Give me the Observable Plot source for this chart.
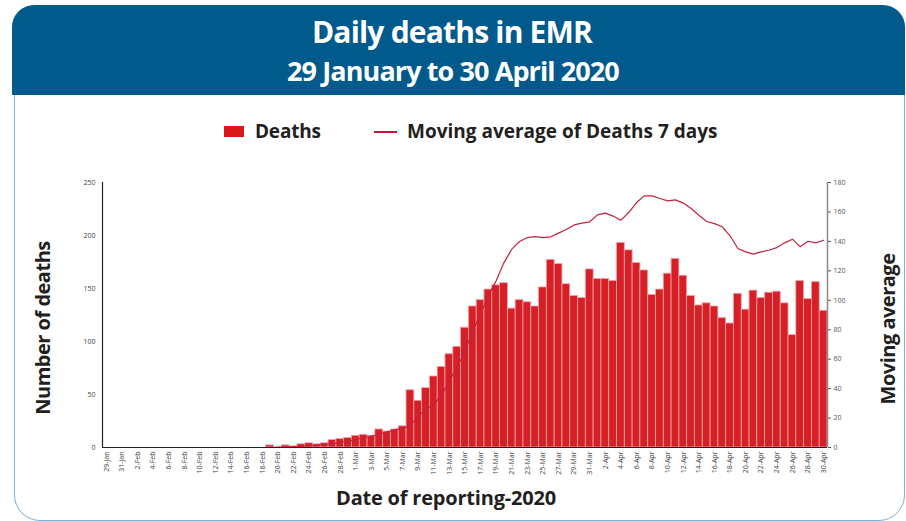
<!DOCTYPE html>
<html>
<head>
<meta charset="utf-8">
<script src="https://cdn.jsdelivr.net/npm/d3@7"></script>
<script src="https://cdn.jsdelivr.net/npm/@observablehq/plot@0.6"></script>
<style>
  body { margin: 0; background: #fff; }
  #wrap { position: relative; width: 906px; height: 521px; overflow: hidden; font-family: "Open Sans", sans-serif; }
  #frame { position: absolute; left: 14px; top: 80px; width: 889px; height: 439px; border: 1.5px solid #7fb0d4; border-radius: 0 0 26px 26px; }
  #header { position: absolute; left: 12px; top: 5px; width: 893px; height: 90px; background: #005a8c; border-radius: 22px 22px 0 0; }
  .t { position: absolute; white-space: nowrap; font-weight: 700; }
  .c { transform: translate(-50%, -50%); }
  .r { transform: translate(-50%, -50%) rotate(-90deg); }
  #chart { position: absolute; left: 0; top: 0; }
</style>
</head>
<body>
<div id="wrap">
  <div id="frame"></div>
  <div id="header"></div>
  <div id="chart"></div>
  <div class="t c" style="left:452px;top:31px;color:#fff;font-size:30px;letter-spacing:-0.8px;">Daily deaths in EMR</div>
  <div class="t c" style="left:453px;top:70px;color:#fff;font-size:27px;letter-spacing:-0.9px;">29 January to 30 April 2020</div>
  <div style="position:absolute;left:224px;top:126px;width:20px;height:11px;background:#d8191c;"></div>
  <div class="t" style="left:255px;top:118px;font-size:19px;color:#231f20;letter-spacing:-0.2px;">Deaths</div>
  <div style="position:absolute;left:374px;top:131px;width:23px;height:2px;background:#c8103a;"></div>
  <div class="t" style="left:407px;top:118px;font-size:19px;color:#231f20;letter-spacing:0px;">Moving average of Deaths 7 days</div>
  <div class="t r" style="left:42px;top:328px;font-size:20px;color:#231f20;letter-spacing:-0.5px;">Number of deaths</div>
  <div class="t r" style="left:887px;top:329px;font-size:20px;color:#231f20;letter-spacing:-0.5px;">Moving average</div>
  <div class="t c" style="left:446px;top:497px;font-size:20px;color:#231f20;letter-spacing:-0.2px;">Date of reporting-2020</div>
</div>
<script>
// Daily deaths, 29 Jan .. 30 Apr 2020 (one value per day)
const deaths = [
  0, 0, 0,                                                   // 29-31 Jan
  0, 0, 0, 0, 0, 0, 0, 0, 0, 0, 0, 0, 0, 0, 0, 0, 0, 0,      // 1-18 Feb
  2, 0, 2, 1, 3, 4, 3, 4, 7, 8, 9,                           // 19-29 Feb
  11, 12, 11, 17, 15, 17, 20, 54, 44, 56, 67, 76, 88, 95, 113, 133, 139, 149, 153, 155,
  131, 139, 137, 133, 151, 177, 173, 154, 143, 141, 168,     // 1-31 Mar
  159, 159, 157, 193, 186, 174, 167, 144, 149, 164, 178, 162, 143, 134, 136,
  133, 122, 117, 145, 130, 148, 141, 146, 147, 136, 106, 157, 140, 156, 129  // 1-30 Apr
];
// 7-day moving average of deaths (right axis)
const movingAvg = [
  0, 0, 0,
  0, 0, 0, 0, 0, 0, 0, 0, 0, 0, 0, 0, 0, 0, 0, 0, 0, 0,
  0, 0.3, 0.3, 0.6, 0.7, 1.1, 1.6, 2.1, 2.4, 3.4, 4.3,
  5.4, 6.6, 7.7, 8.9, 10.7, 12, 13.1, 14.7, 21.5, 26, 29.4, 35.5, 45.3, 54.3, 65.7, 79.2, 90.6, 103, 113.2, 125.6,
  134.7, 139.9, 142.6, 143.3, 142.6, 143.1, 145.6, 148.1, 151.2, 152.4, 153.3,
  158, 159.2, 157.2, 154.4, 159.6, 166.4, 170.9, 170.9, 169.1, 167.5, 168.2, 166, 162.3, 157.8, 153.5,
  152.1, 149.9, 143.8, 135.2, 132.9, 131.3, 132.9, 134, 135.8, 139, 141.5, 136.3, 140.1, 139, 140.8
];
const leftTicks = [0, 50, 100, 150, 200, 250];
const rightTicks = [0, 20, 40, 60, 80, 100, 120, 140, 160, 180];

const start = new Date(Date.UTC(2020, 0, 29));
const end = new Date(Date.UTC(2020, 4, 1));
const dates = d3.utcDay.range(start, end);
const rows = dates.map((d, i) => ({
  date: d,
  next: d3.utcDay.offset(d, 1),
  mid: new Date(+d + 12 * 3600 * 1000),
  deaths: deaths[i],
  ma: movingAvg[i]
}));
const tickDates = rows.filter((r, i) => i % 2 === 0).map(r => r.mid);
const k = 250 / 180; // right-axis to left-axis factor

const chart = Plot.plot({
  width: 906,
  height: 521,
  marginLeft: 102,
  marginRight: 79,
  marginTop: 182,
  marginBottom: 74,
  style: { background: "transparent", fontFamily: "Open Sans", fontSize: "7px", color: "#444" },
  x: { type: "utc", domain: [start, end] },
  y: { domain: [0, 250] },
  marks: [
    Plot.rectY(rows, { x1: "date", x2: "next", y: "deaths", fill: "#d71f27", stroke: "#f2a4a8", strokeWidth: 0.8 }),
    Plot.line(rows, { x: "mid", y: d => d.ma * k, stroke: "#c4213f", strokeWidth: 1.2 }),
    Plot.axisY(leftTicks, { anchor: "left", tickSize: 0, tickPadding: 7, label: null }),
    Plot.axisY(rightTicks.map(v => v * k), { anchor: "right", tickSize: 3, tickPadding: 3, tickFormat: v => String(Math.round(v / k)), label: null, color: "#555" }),
    Plot.axisX(tickDates, { anchor: "bottom", tickSize: 0, tickRotate: -90, tickPadding: 4, tickFormat: d3.utcFormat("%-d-%b"), label: null }),
    Plot.ruleX([start], { stroke: "#222", strokeWidth: 1.2 }),
    Plot.ruleX([end], { stroke: "#888", strokeWidth: 1.5 }),
    Plot.ruleY([0], { stroke: "#222", strokeWidth: 1.2 })
  ]
});
document.getElementById("chart").appendChild(chart);
</script>
</body>
</html>
